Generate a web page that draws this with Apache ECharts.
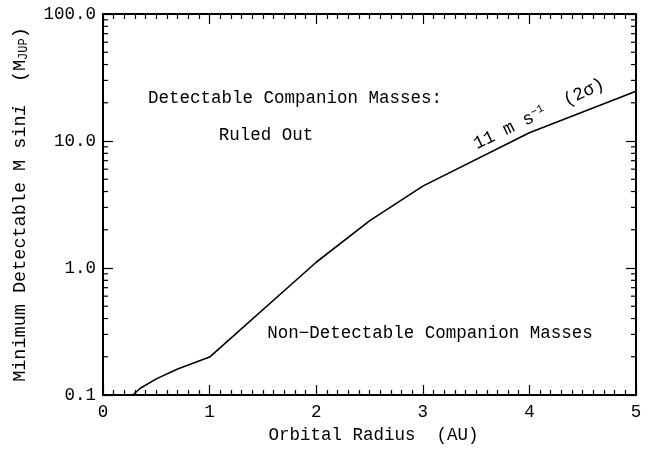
<!DOCTYPE html>
<html>
<head>
<meta charset="utf-8">
<script src="https://cdn.jsdelivr.net/npm/echarts@6/dist/echarts.min.js"></script>
<style>
html,body{margin:0;padding:0;background:#fff;}
#chart{width:649px;height:449px;}
</style>
</head>
<body>
<div id="chart"></div>
<script>
// Data
const radiusAU = [0.28, 0.35, 0.5, 0.7, 1.0, 2.0, 2.5, 3.0, 4.0, 5.0];
const minMass  = [0.10, 0.113, 0.134, 0.16, 0.199, 1.11, 2.35, 4.41, 11.6, 24.6];
const xTickLabels = ['0','1','2','3','4','5'];
const yTickLabels = ['0.1','1.0','10.0','100.0'];
const yMinorValues = [];
[0.1, 1, 10].forEach(function(d){ for (let k = 2; k <= 9; k++) yMinorValues.push(+(d*k).toPrecision(3)); });

const FONT = 'Liberation Mono';
const black = '#000';

const chart = echarts.init(document.getElementById('chart'), null, {renderer:'canvas'});

const axisLineStyle = {color: black, width: 2};

const option = {
  backgroundColor: '#fff',
  animation: false,
  grid: {left: 103, right: 13, top: 14, bottom: 54, containLabel: false},
  xAxis: [{
    type: 'value', min: 0, max: 5, interval: 1, position: 'bottom',
    axisLine: {show: true, onZero: false, lineStyle: axisLineStyle},
    axisTick: {show: true, inside: true, length: 10, lineStyle: {color: black, width: 1.2}},
    minorTick: {show: true, splitNumber: 10, length: 5, lineStyle: {color: black, width: 1.2}},
    splitLine: {show: false},
    axisLabel: {margin: 8, color: black, fontFamily: FONT, fontSize: 17.5,
      formatter: function(v){ return xTickLabels[Math.round(v)]; }},
    name: 'Orbital Radius  (AU)', nameLocation: 'middle', nameGap: 31,
    nameTextStyle: {color: black, fontFamily: FONT, fontSize: 17.5, padding: [0,0,0,8]}
  }, {
    type: 'value', min: 0, max: 5, interval: 1, position: 'top',
    axisLine: {show: true, onZero: false, lineStyle: axisLineStyle},
    axisTick: {show: true, inside: true, length: 10, lineStyle: {color: black, width: 1.2}},
    minorTick: {show: true, splitNumber: 10, length: 5, lineStyle: {color: black, width: 1.2}},
    splitLine: {show: false}, axisLabel: {show: false}
  }],
  yAxis: [{
    type: 'log', logBase: 10, min: 0.1, max: 100, position: 'left',
    axisLine: {show: true, onZero: false, lineStyle: axisLineStyle},
    axisTick: {show: true, inside: true, length: 10, lineStyle: {color: black, width: 1.2}},
    splitLine: {show: false},
    axisLabel: {margin: 7, color: black, fontFamily: FONT, fontSize: 17.5,
      formatter: function(v){
        const i = Math.round(Math.log10(v)) + 1;
        return yTickLabels[i] !== undefined ? yTickLabels[i] : '';
      }},
    name: '{n|Minimum Detectable M sin}{it|i}{n|  (M}{sub|JUP}{n|)}',
    nameLocation: 'middle', nameRotate: 90, nameGap: 73,
    nameTextStyle: {color: black, fontFamily: FONT, fontSize: 18.5,
      rich: {
        n: {fontFamily: FONT, fontSize: 18.5, color: black},
        it: {fontFamily: FONT, fontSize: 18.5, fontStyle: 'italic', color: black},
        sub: {fontFamily: FONT, fontSize: 12, color: black, verticalAlign: 'bottom', padding: [6,0,0,0]}
      }}
  }, {
    type: 'log', logBase: 10, min: 0.1, max: 100, position: 'right',
    axisLine: {show: true, onZero: false, lineStyle: axisLineStyle},
    axisTick: {show: true, inside: true, length: 10, lineStyle: {color: black, width: 1.2}},
    splitLine: {show: false}, axisLabel: {show: false}
  }],
  series: [{
    type: 'line',
    xAxisIndex: 0, yAxisIndex: 0,
    data: radiusAU.map(function(x, i){ return [x, minMass[i]]; }),
    symbol: 'none', smooth: false,
    lineStyle: {color: black, width: 1.6},
    clip: true, z: 5
  }, {
    type: 'custom',
    xAxisIndex: 0, yAxisIndex: 0,
    data: yMinorValues.map(function(v){ return [0, v]; }),
    clip: false, silent: true,
    renderItem: function(params, api){
      const v = api.value(1);
      const l = api.coord([0, v]);
      const r = api.coord([5, v]);
      const st = {stroke: black, lineWidth: 1.2};
      return {type: 'group', children: [
        {type: 'line', shape: {x1: l[0], y1: l[1], x2: l[0] + 5, y2: l[1]}, style: st},
        {type: 'line', shape: {x1: r[0], y1: r[1], x2: r[0] - 5, y2: r[1]}, style: st}
      ]};
    }
  }],
  graphic: [
    {type: 'text', x: 295, y: 98, style: {text: 'Detectable Companion Masses:', fontFamily: FONT, fontSize: 17.5, fill: black, align: 'center', verticalAlign: 'middle'}},
    {type: 'text', x: 266, y: 135, style: {text: 'Ruled Out', fontFamily: FONT, fontSize: 17.5, fill: black, align: 'center', verticalAlign: 'middle'}},
    {type: 'text', x: 430, y: 333, style: {text: 'Non\u2212Detectable Companion Masses', fontFamily: FONT, fontSize: 17.5, fill: black, align: 'center', verticalAlign: 'middle'}},
    {type: 'text', x: 539, y: 114, rotation: 0.45,
      style: {text: '{n|11 m s}{sup|\u22121}{n|  (2\u03c3)}', fill: black, align: 'center', verticalAlign: 'middle',
        rich: {
          n: {fontFamily: FONT, fontSize: 18, fill: black},
          sup: {fontFamily: FONT, fontSize: 11, fill: black, verticalAlign: 'top', padding: [0,0,8,0]}
        }}}
  ]
};
chart.setOption(option);
</script>
</body>
</html>
